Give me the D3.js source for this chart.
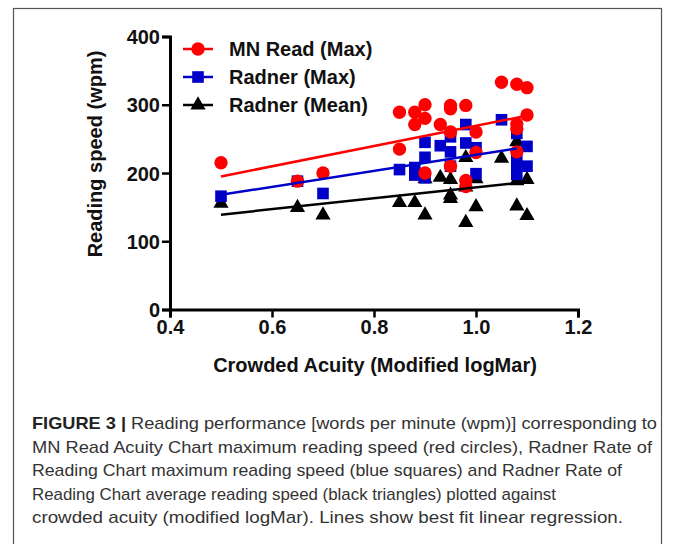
<!DOCTYPE html>
<html>
<head>
<meta charset="utf-8">
<script src="https://cdn.jsdelivr.net/npm/d3@7"></script>
<style>
  body { margin: 0; background: #fff; }
  svg { display: block; }
</style>
</head>
<body>
<div id="chart"></div>
<script>
// values
var mnReadX = [0.5, 0.65, 0.7, 0.85, 0.85, 0.88, 0.88, 0.9, 0.9, 0.9, 0.93, 0.95, 0.95, 0.95, 0.95, 0.98, 0.98, 0.98, 1.0, 1.0, 1.05, 1.08, 1.08, 1.08, 1.08, 1.1, 1.1];
var mnReadY = [215, 188, 200, 289, 235, 289, 271, 300, 280, 200, 271, 299, 294, 260, 210, 299, 189, 180, 260, 230, 333, 330, 272, 265, 231, 325, 285];

var radnerMaxX = [0.5, 0.65, 0.7, 0.85, 0.88, 0.88, 0.9, 0.9, 0.9, 0.93, 0.95, 0.95, 0.95, 0.98, 0.98, 1.0, 1.0, 1.05, 1.08, 1.08, 1.08, 1.08, 1.1, 1.1];
var radnerMaxY = [166, 188, 170, 205, 208, 197, 245, 223, 193, 240, 253, 231, 210, 271, 244, 237, 199, 278, 258, 223, 210, 198, 239, 210];

var radnerMeanX = [0.5, 0.65, 0.7, 0.85, 0.88, 0.9, 0.9, 0.93, 0.95, 0.95, 0.95, 0.98, 0.98, 0.98, 1.0, 1.0, 1.05, 1.08, 1.08, 1.08, 1.1, 1.1];
var radnerMeanY = [154, 148, 137, 155, 155, 137, 190, 192, 189, 166, 161, 221, 178, 126, 149, 190, 220, 244, 187, 150, 189, 136];

// best fit lines, [x, y] at each end
var fitMnRead = [[0.5, 195], [1.1, 284]];
var fitRadnerMax = [[0.5, 168], [1.08, 236]];
var fitRadnerMean = [[0.5, 139], [1.09, 186]];

var seriesNames = ["MN Read (Max)", "Radner (Max)", "Radner (Mean)"];
var xTicks = [0.4, 0.6, 0.8, 1.0, 1.2];
var yTicks = [0, 100, 200, 300, 400];

var captionLines = [
  "Reading performance [words per minute (wpm)] corresponding to",
  "MN Read Acuity Chart maximum reading speed (red circles), Radner Rate of",
  "Reading Chart maximum reading speed (blue squares) and Radner Rate of",
  "Reading Chart average reading speed (black triangles) plotted against",
  "crowded acuity (modified logMar). Lines show best fit linear regression."
];

var svgWidth = 673;
var svgHeight = 544;
var font = "'Liberation Sans', Arial, sans-serif";

var svg = d3.select("#chart")
  .append("svg")
  .attr("width", svgWidth)
  .attr("height", svgHeight);

// frame round the figure
svg.append("rect")
  .attr("x", 13.5)
  .attr("y", 8.5)
  .attr("width", 648)
  .attr("height", 560)
  .attr("fill", "none")
  .attr("stroke", "#555")
  .attr("stroke-width", 1.2);

var xScale = d3.scaleLinear().domain([0.4, 1.2]).range([170, 578]);
var yScale = d3.scaleLinear().domain([0, 400]).range([309.5, 36.5]);

var xAxis = d3.axisBottom(xScale).tickValues(xTicks).tickSize(8).tickPadding(2)
  .tickFormat(d3.format(".1f"));
var yAxis = d3.axisLeft(yScale).tickValues(yTicks).tickSize(8).tickPadding(2);

var gx = svg.append("g")
  .attr("transform", `translate(0, ${yScale(0)})`)
  .call(xAxis);
var gy = svg.append("g")
  .attr("transform", `translate(${xScale(0.4)}, 0)`)
  .call(yAxis);

[gx, gy].forEach(function(g) {
  g.select(".domain").attr("stroke", "#000").attr("stroke-width", 3);
  g.selectAll(".tick line").attr("stroke", "#000").attr("stroke-width", 2.5);
  g.selectAll(".tick text")
    .attr("fill", "#111")
    .style("font-family", font)
    .style("font-size", "20px")
    .style("font-weight", "bold");
});
gy.selectAll(".tick text").attr("dy", "0.36em");

// axis titles
svg.append("text")
  .attr("x", 375)
  .attr("y", 372)
  .attr("text-anchor", "middle")
  .style("font-family", font)
  .style("font-size", "20px")
  .style("font-weight", "bold")
  .attr("fill", "#111")
  .text("Crowded Acuity (Modified logMar)");

svg.append("text")
  .attr("transform", "rotate(-90)")
  .attr("x", -154)
  .attr("y", 102)
  .attr("text-anchor", "middle")
  .style("font-family", font)
  .style("font-size", "20px")
  .style("font-weight", "bold")
  .attr("fill", "#111")
  .text("Reading speed (wpm)");

var lineGen = d3.line().x(d => xScale(d[0])).y(d => yScale(d[1]));

var circleSym = d3.symbol().type(d3.symbolCircle).size(140);
var squareSym = d3.symbol().type(d3.symbolSquare).size(135);
var triSym = d3.symbol().type(d3.symbolTriangle).size(100);

var series = [
  { xs: radnerMeanX, ys: radnerMeanY, fit: fitRadnerMean, color: "#000", sym: triSym, dy: -1 },
  { xs: radnerMaxX, ys: radnerMaxY, fit: fitRadnerMax, color: "#0000c8", sym: squareSym, dy: 0 },
  { xs: mnReadX, ys: mnReadY, fit: fitMnRead, color: "#f00", sym: circleSym, dy: 0 }
];

series.forEach(function(s) {
  svg.append("g")
    .selectAll("path")
    .data(s.xs.map((x, i) => [x, s.ys[i]]))
    .enter()
    .append("path")
    .attr("d", s.sym)
    .attr("transform", d => `translate(${xScale(d[0])}, ${yScale(d[1]) + s.dy})`)
    .attr("fill", s.color);
});

series.forEach(function(s) {
  svg.append("path")
    .attr("d", lineGen(s.fit))
    .attr("fill", "none")
    .attr("stroke", s.color)
    .attr("stroke-width", 2.5);
});

// legend
var legendRows = [
  { name: seriesNames[0], color: "#f00", sym: circleSym, y: 49 },
  { name: seriesNames[1], color: "#0000c8", sym: squareSym, y: 77 },
  { name: seriesNames[2], color: "#000", sym: triSym, y: 105 }
];

var legend = svg.append("g");
legendRows.forEach(function(r) {
  legend.append("line")
    .attr("x1", 183).attr("x2", 213)
    .attr("y1", r.y).attr("y2", r.y)
    .attr("stroke", r.color)
    .attr("stroke-width", 2.5);
  legend.append("path")
    .attr("d", r.sym)
    .attr("transform", `translate(198, ${r.y})`)
    .attr("fill", r.color);
  legend.append("text")
    .attr("x", 229)
    .attr("y", r.y)
    .attr("dy", "0.36em")
    .style("font-family", font)
    .style("font-size", "20px")
    .style("font-weight", "bold")
    .attr("fill", "#111")
    .text(r.name);
});

// caption
var lineEnds = [657, 652, 622, 556, 623];
var caption = svg.append("g");
captionLines.forEach(function(t, i) {
  var txt = caption.append("text")
    .attr("x", 32)
    .attr("y", 429 + i * 23.5)
    .attr("textLength", lineEnds[i] - 32)
    .attr("lengthAdjust", "spacingAndGlyphs")
    .style("font-family", font)
    .style("font-size", "17px")
    .attr("fill", "#333");
  if (i === 0) {
    txt.append("tspan").style("font-weight", "bold").attr("fill", "#222").text("FIGURE 3 | ");
  }
  txt.append("tspan").text(t);
});
</script>
</body>
</html>
